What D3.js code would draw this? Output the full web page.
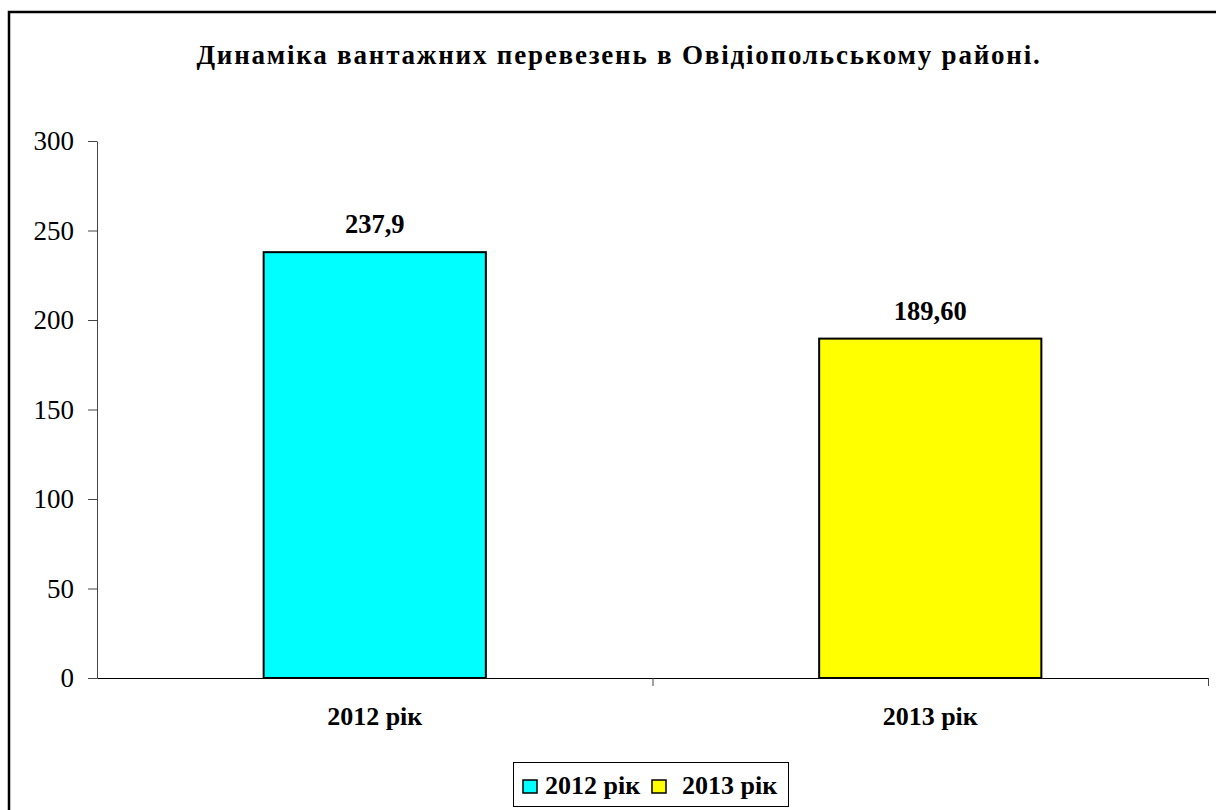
<!DOCTYPE html>
<html>
<head>
<meta charset="utf-8">
<title>Динаміка вантажних перевезень</title>
<script src="https://cdn.jsdelivr.net/npm/d3@7"></script>
<style>
  body { margin: 0; background: #fff; }
  svg { display: block; }
  svg text { font-family: "Liberation Serif", "Times New Roman", serif; }
</style>
</head>
<body>
<svg width="1216" height="810"></svg>
<script>

var categories = ["2012 рік", "2013 рік"],
    values = [237.9, 189.6],
    valueLabels = ["237,9", "189,60"],
    colors = ["#00ffff", "#ffff00"],
    yTicks = [0, 50, 100, 150, 200, 250, 300],
    title = "Динаміка вантажних перевезень в Овідіопольському районі.";

var serif = "'Liberation Serif', 'Times New Roman', serif";

var svg = d3.select("svg"),
    margin = {top: 141, right: 8, bottom: 132, left: 97},
    width = +svg.attr("width") - margin.left - margin.right,
    height = +svg.attr("height") - margin.top - margin.bottom;

// outer frame, runs off the right and bottom edges
svg.append("rect")
    .attr("x", 9).attr("y", 12)
    .attr("width", 1400).attr("height", 1000)
    .attr("fill", "none")
    .attr("stroke", "#000")
    .attr("stroke-width", 2.5);

svg.append("text")
    .attr("x", 619).attr("y", 64)
    .attr("text-anchor", "middle")
    .attr("font-family", serif)
    .attr("font-size", 27)
    .attr("font-weight", "bold")
    .attr("letter-spacing", 1.8)
    .text(title);

var g = svg.append("g").attr("transform", "translate(" + margin.left + "," + margin.top + ")");

var x = d3.scaleBand()
    .domain(categories)
    .range([0, width])
    .paddingInner(0.6)
    .paddingOuter(0.3);

var y = d3.scaleLinear()
    .domain([0, 300])
    .range([height, 0]);

// y axis
var yAxis = g.append("g")
    .call(d3.axisLeft(y).tickValues(yTicks).tickSize(9).tickSizeOuter(0).tickPadding(14));
yAxis.attr("font-family", serif);
yAxis.select(".domain").attr("stroke", "#444");
yAxis.selectAll(".tick line").attr("stroke", "#444");
yAxis.selectAll(".tick text")
    .attr("font-size", 27)
    .attr("font-family", serif)
    .attr("fill", "#000");

// bars
g.selectAll(".bar")
    .data(values)
  .enter().append("rect")
    .attr("class", "bar")
    .attr("x", function(d, i) { return x(categories[i]); })
    .attr("width", x.bandwidth())
    .attr("y", function(d) { return y(d); })
    .attr("height", function(d) { return y(0) - y(d); })
    .attr("fill", function(d, i) { return colors[i]; })
    .attr("stroke", "#000")
    .attr("stroke-width", 2);

g.selectAll(".vlabel")
    .data(values)
  .enter().append("text")
    .attr("class", "vlabel")
    .attr("x", function(d, i) { return x(categories[i]) + x.bandwidth() / 2; })
    .attr("y", function(d) { return y(d) - 19; })
    .attr("text-anchor", "middle")
    .attr("font-family", serif)
    .attr("font-size", 26.5)
    .attr("font-weight", "bold")
    .text(function(d, i) { return valueLabels[i]; });

// x axis with ticks between categories
var xEdges = d3.scaleLinear().domain([0, categories.length]).range([0, width]);
var xAxis = g.append("g")
    .attr("transform", "translate(0," + y(0) + ")")
    .call(d3.axisBottom(xEdges).tickValues([1, 2]).tickSize(8).tickSizeOuter(0).tickFormat(""));
xAxis.select(".domain").attr("stroke", "#000");
xAxis.selectAll(".tick line").attr("stroke", "#444");

g.selectAll(".clabel")
    .data(categories)
  .enter().append("text")
    .attr("class", "clabel")
    .attr("x", function(d) { return x(d) + x.bandwidth() / 2; })
    .attr("y", y(0) + 47)
    .attr("text-anchor", "middle")
    .attr("font-family", serif)
    .attr("font-size", 26)
    .attr("font-weight", "bold")
    .text(function(d) { return d; });

// legend
var legend = svg.append("g");
legend.append("rect")
    .attr("x", 513.5).attr("y", 762.5)
    .attr("width", 275).attr("height", 44)
    .attr("fill", "#fff")
    .attr("stroke", "#000")
    .attr("stroke-width", 1);

var legendX = [523, 652];
var item = legend.selectAll(".item")
    .data(categories)
  .enter().append("g")
    .attr("class", "item")
    .attr("transform", function(d, i) { return "translate(" + legendX[i] + ",780)"; });
item.append("rect")
    .attr("width", 14).attr("height", 13)
    .attr("fill", function(d, i) { return colors[i]; })
    .attr("stroke", "#000")
    .attr("stroke-width", 1.5);
item.append("text")
    .attr("x", function(d, i) { return i === 0 ? 22 : 30; })
    .attr("y", 14)
    .attr("font-family", serif)
    .attr("font-size", 26)
    .attr("font-weight", "bold")
    .text(function(d) { return d; });

</script>
</body>
</html>
